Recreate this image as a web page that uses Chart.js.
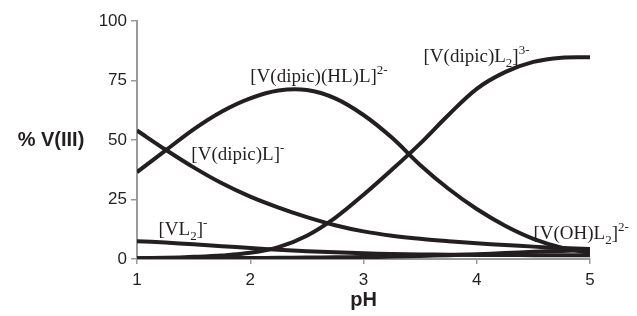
<!DOCTYPE html>
<html>
<head>
<meta charset="utf-8">
<script src="https://cdn.jsdelivr.net/npm/chart.js@4"></script>
<style>
  html, body { margin: 0; padding: 0; background: #ffffff; }
  #wrap { width: 637px; height: 316px; }
</style>
</head>
<body>
<div id="wrap"><canvas id="grafico" width="637" height="316"></canvas></div>
<script>
// pH values (x)
var valoresPH = [1, 1.25, 1.5, 1.75, 2, 2.25, 2.5, 2.75, 3, 3.25, 3.5, 3.75, 4, 4.25, 4.5, 4.75, 5];

// % V(III) for each species
var dipicL     = [54, 46, 38.5, 31.8, 26.2, 21.6, 17.6, 14.2, 11.6, 9.8, 8.5, 7.5, 6.6, 5.9, 5.2, 4.6, 4.2];
var dipicHLL   = [36.5, 45.5, 54.5, 62, 67.5, 70.8, 71, 67.5, 60.5, 51, 39.5, 29.5, 21, 14, 8.5, 4.8, 2.6];
var dipicL2    = [0.3, 0.5, 0.9, 1.5, 2.6, 5, 9.8, 17.3, 27, 37.5, 48.5, 60.5, 71.5, 78.5, 82.8, 84.6, 84.8];
var VL2        = [7.5, 6.9, 6.2, 5.4, 4.6, 3.9, 3.3, 2.8, 2.4, 2.1, 1.9, 1.8, 1.7, 1.7, 1.6, 1.6, 1.6];
var VOHL2      = [0.3, 0.3, 0.3, 0.4, 0.4, 0.5, 0.6, 0.7, 0.8, 1.0, 1.3, 1.6, 2.0, 2.5, 3.0, 3.4, 3.8];

// Ticks
var ticksX = [1, 2, 3, 4, 5];
var ticksY = [0, 25, 50, 75, 100];

// Curve labels: [text parts], anchor pH, anchor %
// each part: [text, "n" normal | "sub" | "sup"]
var etiquetas = [
  { partes: [["[V(dipic)(HL)L]", "n"], ["2-", "sup"]], ph: 2.0, pct: 74.5 },
  { partes: [["[V(dipic)L", "n"], ["2", "sub"], ["]", "n"], ["3-", "sup"]], ph: 3.53, pct: 82.8 },
  { partes: [["[V(dipic)L]", "n"], ["-", "sup"]], ph: 1.48, pct: 41.8 },
  { partes: [["[VL", "n"], ["2", "sub"], ["]", "n"], ["-", "sup"]], ph: 1.19, pct: 9.9 },
  { partes: [["[V(OH)L", "n"], ["2", "sub"], ["]", "n"], ["2-", "sup"]], ph: 4.5, pct: 8.6 }
];

var colorLinea = "#231f20";
var colorEje = "#9a9a9a";

function serie(valores) {
  var puntos = [];
  for (let i = 0; i < valoresPH.length; i++) {
    puntos.push({ x: valoresPH[i], y: valores[i] });
  }
  return {
    data: puntos,
    borderColor: colorLinea,
    borderWidth: 4,
    borderCapStyle: "butt",
    pointRadius: 0,
    fill: false,
    tension: 0.35
  };
}

// Draws the horizontal y title and the species labels
const textosPlugin = {
  id: "textos",
  afterDraw: function (chart) {
    const ctx = chart.ctx;
    const sx = chart.scales.x;
    const sy = chart.scales.y;
    ctx.save();

    // y title, horizontal
    ctx.fillStyle = "#231f20";
    ctx.font = "bold 20px 'Liberation Sans', Arial, sans-serif";
    ctx.textAlign = "center";
    ctx.textBaseline = "middle";
    ctx.fillText("% V(III)", chart.chartArea.left - 86, sy.getPixelForValue(50));

    // species labels
    ctx.textAlign = "left";
    ctx.textBaseline = "alphabetic";
    for (let i = 0; i < etiquetas.length; i++) {
      const et = etiquetas[i];
      let x = sx.getPixelForValue(et.ph);
      const y = sy.getPixelForValue(et.pct);
      for (let j = 0; j < et.partes.length; j++) {
        const texto = et.partes[j][0];
        const tipo = et.partes[j][1];
        let dy = 0;
        if (tipo == "n") {
          ctx.font = "19px 'Liberation Serif', 'Times New Roman', serif";
        } else if (tipo == "sub") {
          ctx.font = "13px 'Liberation Serif', 'Times New Roman', serif";
          dy = 5;
        } else {
          ctx.font = "13px 'Liberation Serif', 'Times New Roman', serif";
          dy = -8;
        }
        ctx.fillText(texto, x, y + dy);
        x += ctx.measureText(texto).width;
      }
    }
    ctx.restore();
  }
};

const datos = {
  datasets: [
    serie(dipicL),
    serie(dipicHLL),
    serie(dipicL2),
    serie(VL2),
    serie(VOHL2)
  ]
};

const config = {
  type: "line",
  data: datos,
  plugins: [textosPlugin],
  options: {
    responsive: false,
    animation: false,
    layout: { padding: { left: 0, right: 47, top: 21, bottom: 0 } },
    plugins: {
      legend: { display: false },
      tooltip: { enabled: false }
    },
    scales: {
      x: {
        type: "linear",
        min: 1,
        max: 5,
        afterBuildTicks: function (scale) {
          scale.ticks = ticksX.map(function (v) { return { value: v }; });
        },
        afterFit: function (scale) { scale.height = 57; },
        grid: { drawOnChartArea: false, drawTicks: true, tickLength: 5, color: colorEje, lineWidth: 1.5 },
        border: { display: true, color: colorEje, width: 2 },
        ticks: {
          color: "#231f20",
          padding: 6,
          maxRotation: 0,
          font: { family: "'Liberation Sans', Arial, sans-serif", size: 17 }
        },
        title: {
          display: true,
          text: "pH",
          color: "#231f20",
          padding: { top: 0, bottom: 4 },
          font: { family: "'Liberation Sans', Arial, sans-serif", size: 20, weight: "bold" }
        }
      },
      y: {
        type: "linear",
        min: 0,
        max: 100,
        afterBuildTicks: function (scale) {
          scale.ticks = ticksY.map(function (v) { return { value: v }; });
        },
        afterFit: function (scale) { scale.width = 137; },
        grid: { drawOnChartArea: false, drawTicks: true, tickLength: 6, color: colorEje, lineWidth: 1.5 },
        border: { display: true, color: colorEje, width: 2 },
        ticks: {
          color: "#231f20",
          padding: 4,
          font: { family: "'Liberation Sans', Arial, sans-serif", size: 17 }
        }
      }
    }
  }
};

const ctx = document.getElementById("grafico").getContext("2d");
new Chart(ctx, config);
</script>
</body>
</html>
